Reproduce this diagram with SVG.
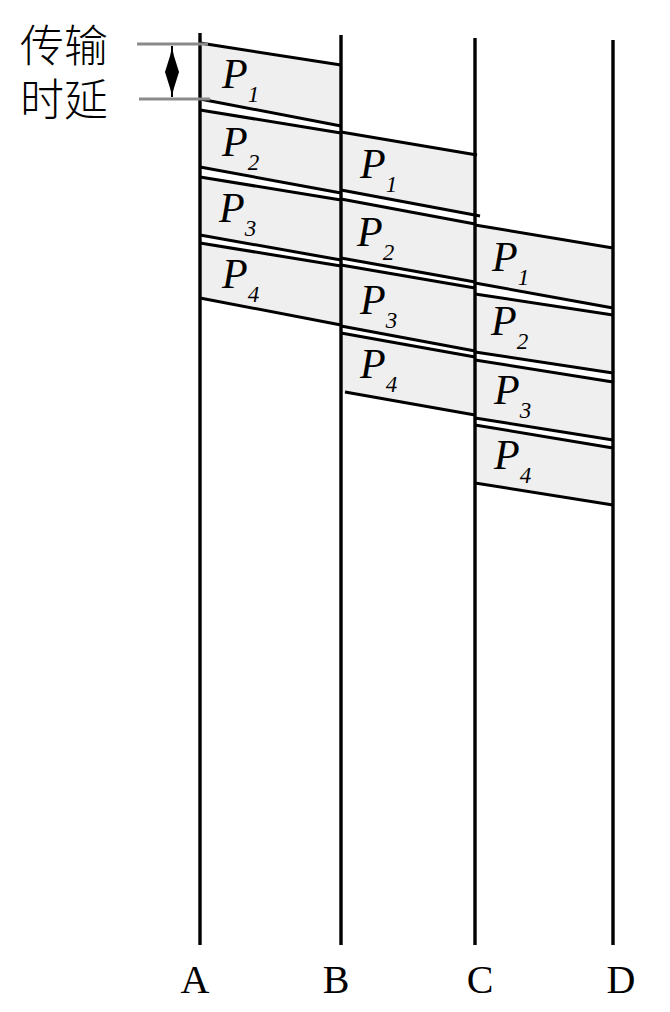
<svg xmlns="http://www.w3.org/2000/svg" width="670" height="1012" viewBox="0 0 670 1012">
<style>
.fill{fill:#efefef;stroke:none}
.edge{stroke:#000;stroke-width:3;fill:none}
.station{stroke:#000;stroke-width:3.4;fill:none}
.lbl{font-family:"Liberation Serif","DejaVu Serif",serif;font-size:40px;fill:#000;text-anchor:middle}
.p{font-family:"Liberation Serif","DejaVu Serif",serif;font-style:italic;font-size:42px;fill:#000}
.sub{font-size:23px}
.cjk{font-family:"Liberation Serif","Noto Sans CJK SC",sans-serif;font-size:44px;font-weight:300;fill:#000}
.guide{stroke:#8a8a8a;stroke-width:3}
</style>
<rect width="670" height="1012" fill="#fff"/>

<!-- packet fills -->
<g id="fills">
<polygon class="fill" points="200,43 341,65 341,126 200,99"/>
<polygon class="fill" points="200,110 341,133 341,193 200,167"/>
<polygon class="fill" points="200,177 341,200 341,260 200,235"/>
<polygon class="fill" points="200,243 341,266 341,325 200,298"/>
<polygon class="fill" points="341,132 475,155 475,216 341,190"/>
<polygon class="fill" points="341,199 475,224 475,282 341,258"/>
<polygon class="fill" points="341,265 475,288 475,351 341,326"/>
<polygon class="fill" points="341,333 475,357 475,415 341,392"/>
<polygon class="fill" points="475,225 613,248 613,308 475,283"/>
<polygon class="fill" points="475,294 613,315 613,373 475,352"/>
<polygon class="fill" points="475,360 613,382 613,440 475,418"/>
<polygon class="fill" points="475,425 613,448 613,505 475,483"/>
</g>

<!-- packet edges -->
<g id="connectors">
<line class="edge" x1="200" y1="43" x2="341" y2="65"/>
<line class="edge" x1="200" y1="99" x2="341" y2="126"/>
<line class="edge" x1="200" y1="110" x2="341" y2="133"/>
<line class="edge" x1="200" y1="167" x2="341" y2="193"/>
<line class="edge" x1="200" y1="177" x2="341" y2="200"/>
<line class="edge" x1="200" y1="235" x2="341" y2="260"/>
<line class="edge" x1="200" y1="243" x2="341" y2="266"/>
<line class="edge" x1="200" y1="298" x2="341" y2="325"/>

<line class="edge" x1="341" y1="132" x2="477" y2="155"/>
<line class="edge" x1="341" y1="190" x2="480" y2="216"/>
<line class="edge" x1="341" y1="199" x2="475" y2="224"/>
<line class="edge" x1="341" y1="258" x2="475" y2="282"/>
<line class="edge" x1="341" y1="265" x2="475" y2="288"/>
<line class="edge" x1="341" y1="326" x2="475" y2="351"/>
<line class="edge" x1="341" y1="333" x2="475" y2="357"/>
<line class="edge" x1="345" y1="392" x2="475" y2="415"/>

<line class="edge" x1="475" y1="225" x2="613" y2="248"/>
<line class="edge" x1="475" y1="283" x2="613" y2="308"/>
<line class="edge" x1="475" y1="294" x2="613" y2="315"/>
<line class="edge" x1="475" y1="352" x2="613" y2="373"/>
<line class="edge" x1="475" y1="360" x2="613" y2="382"/>
<line class="edge" x1="475" y1="418" x2="613" y2="440"/>
<line class="edge" x1="475" y1="425" x2="613" y2="448"/>
<line class="edge" x1="475" y1="483" x2="613" y2="505"/>
</g>

<!-- stations -->
<g id="station-A">
<line class="station" x1="200" y1="33" x2="200" y2="945"/>
<text class="lbl" x="195" y="993">A</text>
</g>
<g id="station-B">
<line class="station" x1="341" y1="35" x2="341" y2="945"/>
<text class="lbl" x="336" y="993">B</text>
</g>
<g id="station-C">
<line class="station" x1="475" y1="38" x2="475" y2="945"/>
<text class="lbl" x="480" y="993">C</text>
</g>
<g id="station-D">
<line class="station" x1="613" y1="40" x2="613" y2="945"/>
<text class="lbl" x="621" y="993">D</text>
</g>

<!-- packet labels -->
<g id="labels-AB">
<text class="p" x="222" y="88">P<tspan class="sub" dy="14">1</tspan></text>
<text class="p" x="222" y="156">P<tspan class="sub" dy="14">2</tspan></text>
<text class="p" x="219" y="222">P<tspan class="sub" dy="14">3</tspan></text>
<text class="p" x="222" y="288">P<tspan class="sub" dy="14">4</tspan></text>
</g>
<g id="labels-BC">
<text class="p" x="360" y="178">P<tspan class="sub" dy="14">1</tspan></text>
<text class="p" x="357" y="246">P<tspan class="sub" dy="14">2</tspan></text>
<text class="p" x="360" y="314">P<tspan class="sub" dy="14">3</tspan></text>
<text class="p" x="360" y="378">P<tspan class="sub" dy="14">4</tspan></text>
</g>
<g id="labels-CD">
<text class="p" x="492" y="271">P<tspan class="sub" dy="14">1</tspan></text>
<text class="p" x="491" y="335">P<tspan class="sub" dy="14">2</tspan></text>
<text class="p" x="494" y="404">P<tspan class="sub" dy="14">3</tspan></text>
<text class="p" x="494" y="469">P<tspan class="sub" dy="14">4</tspan></text>
</g>

<!-- transmission delay annotation -->
<g id="delay">
<line class="guide" x1="137" y1="44" x2="208" y2="44"/>
<line class="guide" x1="139" y1="99" x2="210" y2="99"/>
<line x1="172" y1="46" x2="172" y2="97" stroke="#000" stroke-width="2"/>
<polygon points="172,47 174,56 179,72 174,88 172,96 170,88 165,72 170,56" fill="#000"/>
<text class="cjk" x="20" y="62">传输</text>
<text class="cjk" x="20" y="116">时延</text>
</g>
</svg>
